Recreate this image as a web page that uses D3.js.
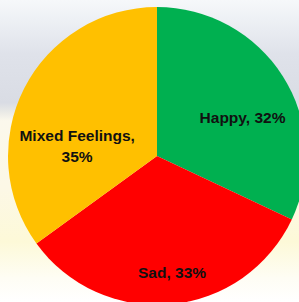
<!DOCTYPE html>
<meta charset="utf-8">
<style type="text/css">
    html, body{
      margin: 0;
      padding: 0;
      background: #fff;
    }
    svg{
      display: block;
    }
    text {
      font-family: "Liberation Sans", Arial, sans-serif;
      font-weight: bold;
      font-size: 15.5px;
      fill: #111;
    }
</style>
<body>
<script src="https://cdn.jsdelivr.net/npm/d3@7"></script>
<script>
// chart data
var categories = ["Happy", "Sad", "Mixed Feelings"];
var values     = [32, 33, 35];
var sliceColors = ["#00B050", "#FF0000", "#FFC000"];

// label text lines for each slice
var labelLines = [["Happy, 32%"], ["Sad, 33%"], ["Mixed Feelings,", "35%"]];

var width = 299, height = 302;
var cx = 157, cy = 156, radius = 149;

// where Excel nudged each label: angle (deg, clockwise from top) and fraction of radius
var labelPlace = [
  {angle: 65.6,  r: 0.63},
  {angle: 172.6, r: 0.785},
  {angle: 277,   r: 0.54}
];

var svg = d3.select("body")
  .append("svg")
  .attr("width", width)
  .attr("height", height);

// blurred photo-ish background
var defs = svg.append("defs");
var grad = defs.append("linearGradient")
  .attr("id", "bg")
  .attr("x1", 0).attr("y1", 0)
  .attr("x2", 0).attr("y2", 1);

[
  [0,    "#f6f8fa"],
  [0.06, "#eef1f5"],
  [0.18, "#dfe2ea"],
  [0.34, "#d9dce4"],
  [0.37, "#e9e9e6"],
  [0.40, "#fbf8ec"],
  [0.62, "#fcf8e6"],
  [0.80, "#fdf9d8"],
  [0.92, "#fefdf4"],
  [1,    "#ffffff"]
].forEach(function(s){
  grad.append("stop").attr("offset", s[0]).attr("stop-color", s[1]);
});

svg.append("rect")
  .attr("width", width)
  .attr("height", height)
  .attr("fill", "url(#bg)");

var data = categories.map(function(c, i){
  return {name: c, value: values[i], color: sliceColors[i], lines: labelLines[i], place: labelPlace[i]};
});

var pie = d3.pie()
  .sort(null)
  .value(function(d){ return d.value; });

var arc = d3.arc()
  .innerRadius(0)
  .outerRadius(radius);

var chart = svg.append("g")
  .attr("transform", "translate(" + cx + "," + cy + ")");

chart.selectAll("path")
  .data(pie(data))
  .enter().append("path")
  .attr("d", arc)
  .attr("fill", function(d){ return d.data.color; });

var lineHeight = 21;

var labels = chart.selectAll("text")
  .data(pie(data))
  .enter().append("text")
  .attr("text-anchor", "middle")
  .attr("transform", function(d){
    var a = d.data.place.angle * Math.PI / 180,
        r = d.data.place.r * radius;
    return "translate(" + (r * Math.sin(a)) + "," + (-r * Math.cos(a)) + ")";
  });

labels.each(function(d){
  var t = d3.select(this),
      n = d.data.lines.length;
  d.data.lines.forEach(function(line, i){
    t.append("tspan")
      .attr("x", 0)
      .attr("y", (i - (n - 1) / 2) * lineHeight)
      .attr("dy", "0.36em")
      .text(line);
  });
});
</script>
